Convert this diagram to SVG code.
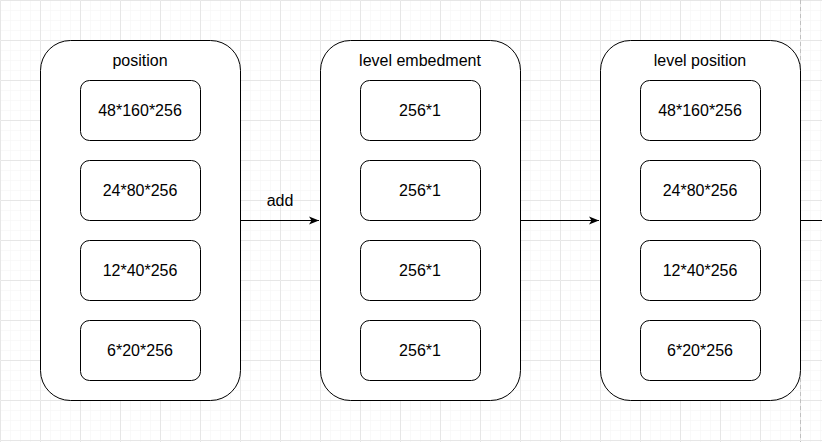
<svg xmlns="http://www.w3.org/2000/svg" width="822" height="442" viewBox="0 0 822 442">
<defs>
<pattern id="minor" width="10" height="10" patternUnits="userSpaceOnUse">
<path d="M10 0H0V10" fill="none" stroke="#f3f3f3" stroke-width="1"/>
</pattern>
<pattern id="major" width="40" height="40" patternUnits="userSpaceOnUse">
<rect width="40" height="40" fill="url(#minor)"/>
<path d="M40 0.5H0.5V40" fill="none" stroke="#e6e6e6" stroke-width="1"/>
</pattern>
<marker id="arr" viewBox="0 0 10 10" refX="10" refY="5" markerWidth="10" markerHeight="10" markerUnits="userSpaceOnUse" orient="auto">
<path d="M0 1L10 5L0 9L2.5 5Z" fill="#000"/>
</marker>
</defs>
<style>
.outer{fill:#fff;stroke:#000;stroke-width:1}
.inner{fill:#fff;stroke:#000;stroke-width:1}
text{font-family:"Liberation Sans",Arial,sans-serif;font-size:16px;fill:#000;text-anchor:middle}
.edge{fill:none;stroke:#000;stroke-width:1}
</style>
<rect width="822" height="442" fill="#fff"/>
<rect width="822" height="442" fill="url(#major)"/>
<line x1="800.5" y1="0" x2="800.5" y2="442" stroke="#c0c0c0" stroke-dasharray="4 3"/>
<g id="connectors">
<path class="edge" d="M240.5 220.5H319" marker-end="url(#arr)"/>
<path class="edge" d="M520.5 220.5H599" marker-end="url(#arr)"/>
<path class="edge" d="M800.5 220.5H822"/>
<text x="280" y="206">add</text>
</g>
<g id="position">
<rect class="outer" x="40.5" y="40.5" width="200" height="360" rx="30"/>
<text x="140" y="66">position</text>
<g id="p1"><rect class="inner" x="80.5" y="80.5" width="120" height="60" rx="9"/><text x="140" y="116">48*160*256</text></g>
<g id="p2"><rect class="inner" x="80.5" y="160.5" width="120" height="60" rx="9"/><text x="140" y="196">24*80*256</text></g>
<g id="p3"><rect class="inner" x="80.5" y="240.5" width="120" height="60" rx="9"/><text x="140" y="276">12*40*256</text></g>
<g id="p4"><rect class="inner" x="80.5" y="320.5" width="120" height="60" rx="9"/><text x="140" y="356">6*20*256</text></g>
</g>
<g id="level-embedment">
<rect class="outer" x="320.5" y="40.5" width="200" height="360" rx="30"/>
<text x="420" y="66">level embedment</text>
<g id="e1"><rect class="inner" x="360.5" y="80.5" width="120" height="60" rx="9"/><text x="420" y="116">256*1</text></g>
<g id="e2"><rect class="inner" x="360.5" y="160.5" width="120" height="60" rx="9"/><text x="420" y="196">256*1</text></g>
<g id="e3"><rect class="inner" x="360.5" y="240.5" width="120" height="60" rx="9"/><text x="420" y="276">256*1</text></g>
<g id="e4"><rect class="inner" x="360.5" y="320.5" width="120" height="60" rx="9"/><text x="420" y="356">256*1</text></g>
</g>
<g id="level-position">
<rect class="outer" x="600.5" y="40.5" width="200" height="360" rx="30"/>
<text x="700" y="66">level position</text>
<g id="l1"><rect class="inner" x="640.5" y="80.5" width="120" height="60" rx="9"/><text x="700" y="116">48*160*256</text></g>
<g id="l2"><rect class="inner" x="640.5" y="160.5" width="120" height="60" rx="9"/><text x="700" y="196">24*80*256</text></g>
<g id="l3"><rect class="inner" x="640.5" y="240.5" width="120" height="60" rx="9"/><text x="700" y="276">12*40*256</text></g>
<g id="l4"><rect class="inner" x="640.5" y="320.5" width="120" height="60" rx="9"/><text x="700" y="356">6*20*256</text></g>
</g>
</svg>
